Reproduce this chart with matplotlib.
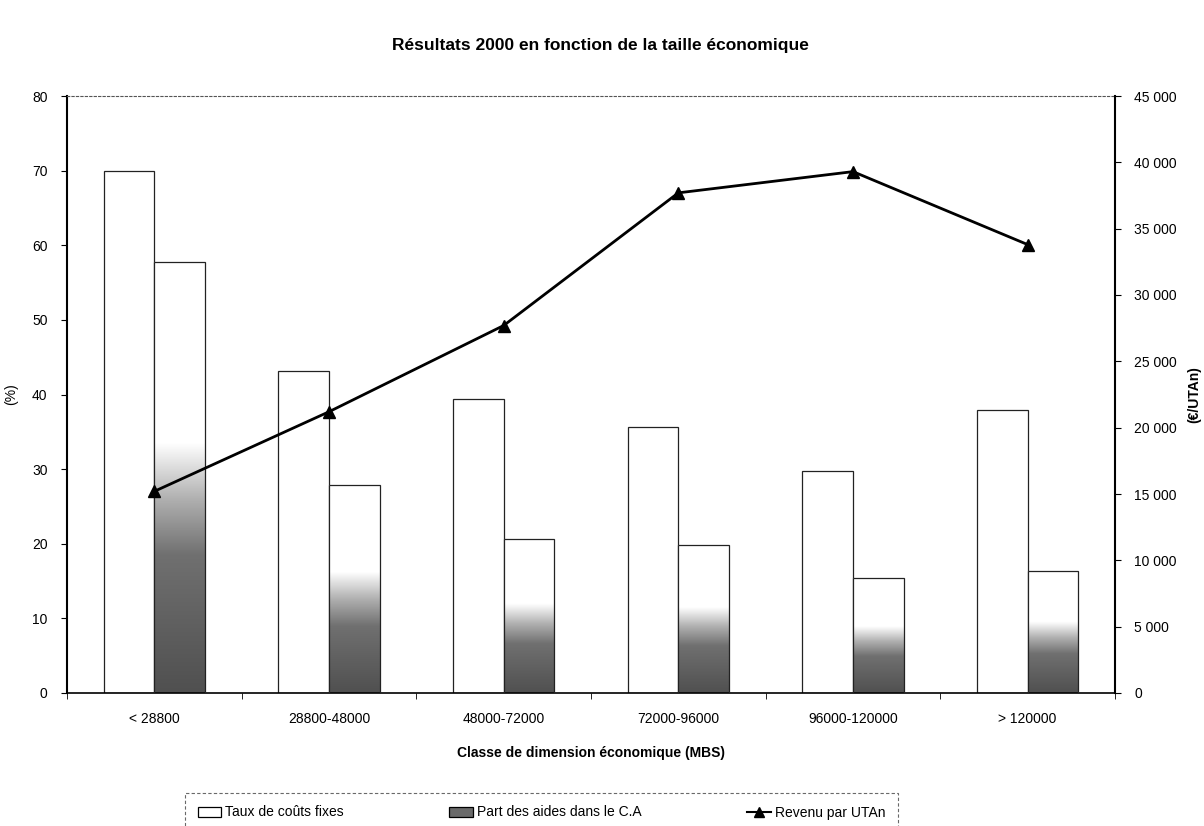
import matplotlib
matplotlib.use("Agg")
import matplotlib.pyplot as plt
import numpy as np
from matplotlib.colors import LinearSegmentedColormap
from matplotlib.patches import Patch
from matplotlib.lines import Line2D
from matplotlib.ticker import FuncFormatter, FixedLocator

plt.rcParams['font.family'] = ['Liberation Sans', 'DejaVu Sans']

categories = ["< 28800", "28800-48000", "48000-72000", "72000-96000", "96000-120000", "> 120000"]
couts_fixes = [70.0, 43.2, 39.4, 35.7, 29.8, 37.9]
part_aides = [57.7, 27.9, 20.6, 19.8, 15.4, 16.4]
revenu = [15200, 21200, 27700, 37700, 39300, 33800]

series_names = ["Taux de coûts fixes", "Part des aides dans le C.A", "Revenu par UTAn"]

fig = plt.figure(figsize=(12.04, 8.26), dpi=100)
ax = fig.add_axes([67/1204, 1-693/826, (1115-67)/1204, (693-96)/826])

x = np.arange(len(categories))
w = 0.29
b1 = ax.bar(x - w/2, couts_fixes, w, facecolor='white', edgecolor='#222222', linewidth=0.9, zorder=2)
b2 = ax.bar(x + w/2, part_aides, w, facecolor='none', edgecolor='#222222', linewidth=0.9, zorder=3)

cmap = LinearSegmentedColormap.from_list('grad', [(0.0, '#505050'), (0.32, '#707070'), (0.45, '#b0b0b0'), (0.58, '#ffffff'), (1.0, '#ffffff')])
grad = np.linspace(0, 1, 256).reshape(-1, 1)
for rect in b2:
    x0 = rect.get_x(); x1 = x0 + rect.get_width(); h = rect.get_height()
    im = ax.imshow(grad, cmap=cmap, origin='lower', extent=(x0, x1, 0, h), aspect='auto', zorder=2, vmin=0, vmax=1)
    im.set_clip_path(rect)

ax.set_xlim(-0.5, len(categories) - 0.5)
ax.set_ylim(0, 80)
ax.set_yticks(np.arange(0, 81, 10))
ax.set_xticks(x)
ax.set_xticklabels(categories, fontsize=10)
ax.tick_params(axis='x', length=0, pad=14)
ax.xaxis.set_minor_locator(FixedLocator(np.arange(-0.5, len(categories), 1)))
ax.tick_params(axis='x', which='minor', length=4, direction='out')
ax.tick_params(axis='y', labelsize=10, length=4, direction='out', pad=10)
ax.set_ylabel("(%)", fontsize=10, labelpad=10)
ax.set_xlabel("Classe de dimension économique (MBS)", fontsize=10, fontweight='bold', labelpad=14)
ax.spines['top'].set_linestyle((0, (2, 2)))
ax.spines['top'].set_color('#555555')
ax.spines['left'].set_linewidth(1.5)
ax.spines['bottom'].set_linewidth(1.2)
ax.spines['right'].set_visible(False)

ax2 = ax.twinx()
ax2.plot(x, revenu, color='black', linewidth=2, marker='^', markersize=9, zorder=5)
ax2.set_ylim(0, 45000)
ax2.set_yticks(np.arange(0, 45001, 5000))
ax2.yaxis.set_major_formatter(FuncFormatter(lambda v, p: f"{int(v):,}".replace(",", " ")))
ax2.tick_params(axis='y', labelsize=10, length=4, direction='out', pad=10)
ax2.set_ylabel("(€/UTAn)", fontsize=10, fontweight='bold', labelpad=7)
ax2.spines['top'].set_visible(False)
ax2.spines['left'].set_visible(False)
ax2.spines['bottom'].set_visible(False)
ax2.spines['right'].set_linewidth(1.5)

fig.suptitle("Résultats 2000 en fonction de la taille économique", fontsize=12.5, fontweight='bold', x=600/1204, y=1-38/826)

handles = [
    Patch(facecolor='white', edgecolor='black', linewidth=0.9),
    Patch(facecolor='#6a6a6a', edgecolor='black', linewidth=0.9),
    Line2D([0], [0], color='black', linewidth=1.5, marker='^', markersize=7),
]
leg = fig.legend(handles, series_names, loc='upper left', bbox_to_anchor=(185/1204, 1-793/826), ncol=3,
                 fontsize=10, frameon=True, fancybox=False, columnspacing=7.6, handlelength=1.7,
                 handletextpad=0.3, borderpad=0.9, borderaxespad=0)
leg.get_frame().set_edgecolor('#444444')
leg.get_frame().set_linestyle((0, (3, 2)))
leg.get_frame().set_linewidth(0.8)

fig.savefig("out.png", dpi=100)
